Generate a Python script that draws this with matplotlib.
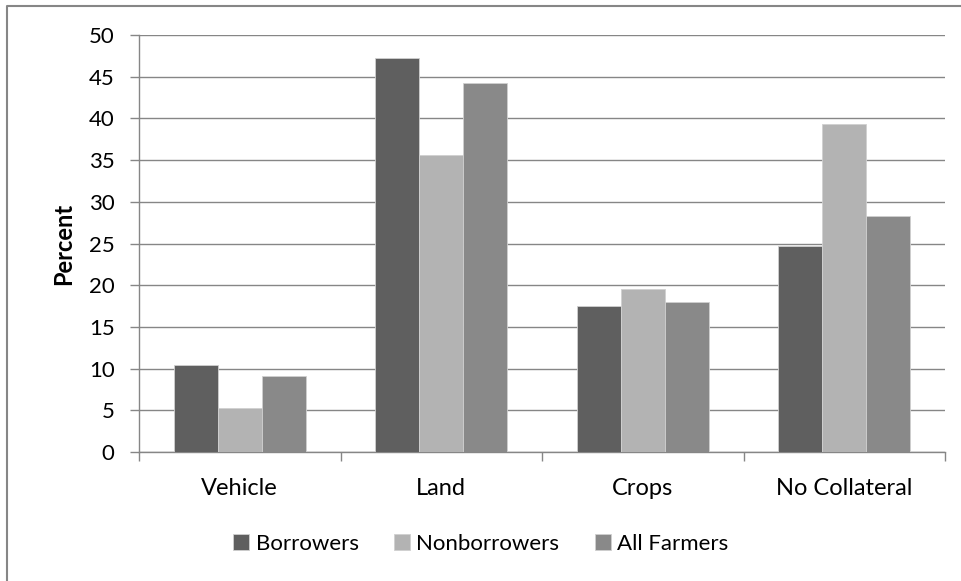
import numpy as np
import matplotlib
matplotlib.use("Agg")
from matplotlib import pyplot
from matplotlib.lines import Line2D

pyplot.rcParams['font.family'] = ['Lato', 'DejaVu Sans']

categories = ["Vehicle", "Land", "Crops", "No Collateral"]
series_names = ["Borrowers", "Nonborrowers", "All Farmers"]
borrowers = [10.4, 47.2, 17.5, 24.7]
nonborrowers = [5.3, 35.6, 19.6, 39.3]
all_farmers = [9.1, 44.3, 18.0, 28.3]
colors = ["#5f5f5f", "#b3b3b3", "#898989"]

fig = pyplot.figure(figsize=(9.62, 5.81), dpi=100)
ax = fig.add_axes([139 / 962, 1 - 452 / 581, (945 - 139) / 962, (452 - 35) / 581])

x = np.arange(len(categories))
width = 0.218
for i, (vals, name) in enumerate(zip([borrowers, nonborrowers, all_farmers], series_names)):
    ax.bar(x + (i - 1) * width, vals, width, color=colors[i], label=name,
           edgecolor="#d0d0d0", linewidth=0.6, zorder=3)

ax.set_xlim(-0.5, len(categories) - 0.5)
ax.set_ylim(0, 50)
ax.set_yticks(range(0, 51, 5))
ax.yaxis.grid(True, color="#868686", linewidth=1.0, zorder=0)
ax.set_axisbelow(True)

ax.set_xticks(x)
ax.set_xticklabels(categories, fontsize=17)
ax.set_xticks(np.arange(-0.5, len(categories)), minor=True)
ax.tick_params(axis="x", which="major", length=0, pad=19)
ax.tick_params(axis="x", which="minor", length=6.5, color="#868686", width=1)
ax.tick_params(axis="y", length=6.5, color="#868686", width=1, labelsize=16, pad=11)

for side in ["top", "right"]:
    ax.spines[side].set_visible(False)
for side in ["left", "bottom"]:
    ax.spines[side].set_color("#868686")
    ax.spines[side].set_linewidth(1)

ax.set_ylabel("Percent", fontsize=17, fontweight="bold", labelpad=10)

fig.legend(loc="center", bbox_to_anchor=(0.5, 1 - 544 / 581), ncol=3, frameon=False,
           fontsize=16, handlelength=0.7, handleheight=0.7, handletextpad=0.3,
           columnspacing=1.6)

# chart area border (only top and left edges fall inside the image)
fig.add_artist(Line2D([7 / 962, 7 / 962, 1], [0, 1 - 6 / 581, 1 - 6 / 581],
                      transform=fig.transFigure, color="#868686", linewidth=1.5))

fig.savefig("out.png", dpi=100)
